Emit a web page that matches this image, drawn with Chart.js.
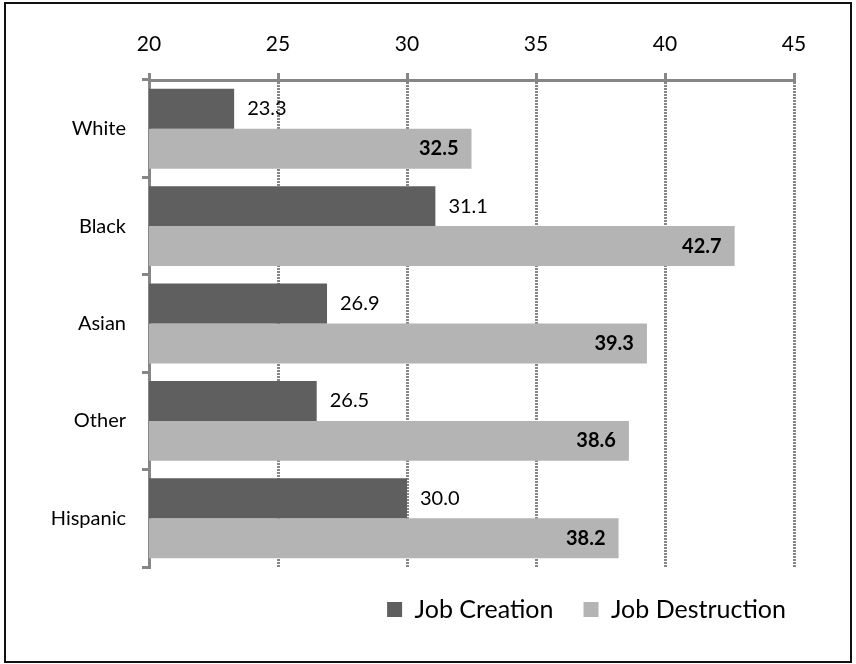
<!DOCTYPE html>
<html>
<head>
<meta charset="utf-8">
<script src="https://cdn.jsdelivr.net/npm/chart.js@4"></script>
<style>
  body { margin: 0; background: #fff; }
  #wrap { position: relative; width: 856px; height: 664px; }
  #frame { position: absolute; left: 4px; top: 2px; width: 848px; height: 661px;
           border: 2px solid #111; box-sizing: border-box; pointer-events: none; }
</style>
</head>
<body>
<div id="wrap">
  <canvas id="jobs" width="856" height="664"></canvas>
  <div id="frame"></div>
</div>
<script>
const categories = ['White', 'Black', 'Asian', 'Other', 'Hispanic'];
const jobCreation = [23.3, 31.1, 26.9, 26.5, 30.0];
const jobDestruction = [32.5, 42.7, 39.3, 38.6, 38.2];
const xTicks = [20, 25, 30, 35, 40, 45];

const dark = '#5f5f5f';
const light = '#b4b4b4';
const axisGray = '#868686';
const font = 'Lato';

// value labels: creation outside the bar end, destruction bold inside the end
const valueLabels = {
  id: 'valueLabels',
  afterDatasetsDraw(chart) {
    const ctx = chart.ctx;
    ctx.save();
    ctx.fillStyle = '#000';
    ctx.textBaseline = 'middle';
    chart.data.datasets.forEach((ds, i) => {
      const meta = chart.getDatasetMeta(i);
      meta.data.forEach((bar, j) => {
        const txt = ds.data[j].toFixed(1);
        if (i === 0) {
          ctx.font = `20px ${font}`;
          ctx.textAlign = 'left';
          ctx.fillText(txt, bar.x + 13, bar.y);
        } else {
          ctx.font = `bold 20px ${font}`;
          ctx.textAlign = 'right';
          ctx.fillText(txt, bar.x - 13, bar.y);
        }
      });
    });
    ctx.restore();
  },
  // nudge the legend to the right, under the plot's right edge
  afterLayout(chart) {
    chart.legend.left += 22;
    chart.legend.right += 22;
  }
};

new Chart('jobs', {
  type: 'bar',
  data: {
    labels: categories,
    datasets: [
      {
        label: 'Job Creation',
        data: jobCreation,
        backgroundColor: dark,
        categoryPercentage: 0.82,
        barPercentage: 1.0
      },
      {
        label: 'Job Destruction',
        data: jobDestruction,
        backgroundColor: light,
        categoryPercentage: 0.82,
        barPercentage: 1.0
      }
    ]
  },
  options: {
    indexAxis: 'y',
    responsive: false,
    animation: false,
    layout: { padding: { left: 10, right: 62, top: 10, bottom: 32 } },
    scales: {
      x: {
        position: 'top',
        min: xTicks[0],
        max: xTicks[xTicks.length - 1],
        afterBuildTicks: (scale) => { scale.ticks = xTicks.map(v => ({ value: v })); },
        afterFit: (scale) => { scale.height = 70; },
        border: { color: axisGray, width: 3, dash: [2, 1] },
        grid: { color: axisGray, lineWidth: 3, tickLength: 7, tickBorderDash: [], tickColor: axisGray },
        ticks: { color: '#000', font: { family: font, size: 21 }, padding: 16 }
      },
      y: {
        afterFit: (scale) => { scale.width = 139; },
        border: { color: axisGray, width: 3 },
        grid: { drawOnChartArea: false, offset: true, color: axisGray, lineWidth: 3, tickLength: 7 },
        ticks: { color: '#000', font: { family: font, size: 20 }, padding: 16 }
      }
    },
    plugins: {
      legend: {
        position: 'bottom',
        align: 'end',
        labels: {
          color: '#000',
          font: { family: font, size: 25 },
          boxWidth: 15,
          boxHeight: 15,
          padding: 30
        }
      },
      tooltip: { enabled: false }
    }
  },
  plugins: [valueLabels]
});
</script>
</body>
</html>
